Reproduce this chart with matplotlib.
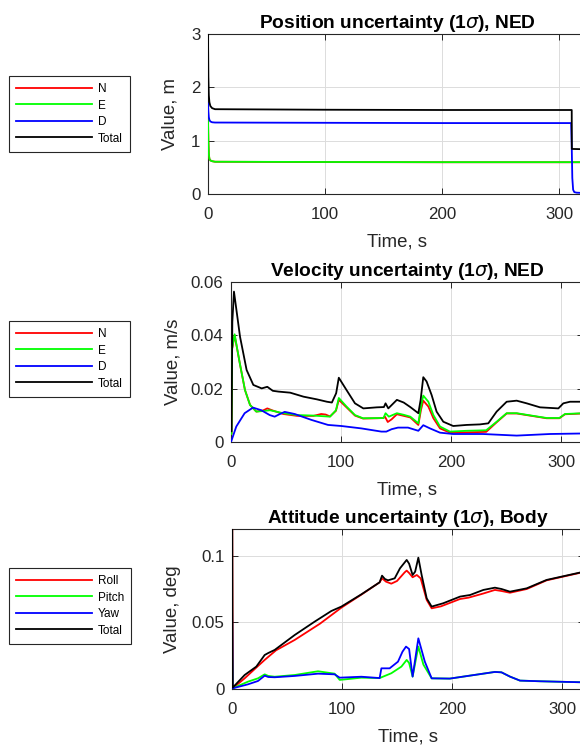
import matplotlib
matplotlib.use("Agg")
import matplotlib.pyplot as plt

# ---------------- data ----------------
# Position uncertainty (m)
pos_n_t = [0, 0.3, 0.7, 1.2, 2, 3.5, 6, 100, 200, 320]
pos_n_v = [1.40, 1.00, 0.75, 0.66, 0.63, 0.615, 0.605, 0.598, 0.595, 0.595]
pos_e_t = [0, 0.3, 0.7, 1.2, 2, 3.5, 6, 100, 200, 320]
pos_e_v = [1.40, 1.00, 0.75, 0.66, 0.63, 0.615, 0.605, 0.600, 0.597, 0.597]
pos_d_t = [0, 0.3, 0.7, 1.2, 2, 3.5, 6, 100, 200, 310.3, 310.8, 311.3, 312, 313, 315, 320]
pos_d_v = [1.70, 1.55, 1.44, 1.39, 1.36, 1.345, 1.34, 1.335, 1.33, 1.33, 0.90, 0.30, 0.08, 0.035, 0.025, 0.02]
pos_tot_t = [0, 0.3, 0.7, 1.2, 2, 3.5, 6, 100, 200, 310.8, 310.9, 320]
pos_tot_v = [3.00, 2.20, 1.85, 1.72, 1.65, 1.61, 1.59, 1.58, 1.575, 1.575, 0.845, 0.84]

# Velocity uncertainty (m/s)
vel_n_t = [0, 0.5, 1.0, 3.3, 8, 12.7, 17.3, 23, 29, 33, 38, 47.5, 60, 75, 82, 86, 90, 95.4, 98, 105,
           112.7, 120, 133, 138.6, 140, 142.5, 146, 150.8, 157, 163, 170.3, 172.7, 174.8, 179.4, 184, 190,
           199, 214, 232, 241.5, 250.6, 259.7, 274.8, 287, 298.5, 303.6, 320]
vel_n_v = [0.003, 0.003, 0.035, 0.040, 0.0295, 0.0195, 0.0139, 0.0114, 0.0118, 0.0126, 0.0118, 0.0105,
           0.0098, 0.0098, 0.0105, 0.0103, 0.0096, 0.0117, 0.0158, 0.0130, 0.0099, 0.0088, 0.0089, 0.0090,
           0.0095, 0.0075, 0.0085, 0.0104, 0.0098, 0.0092, 0.0064, 0.0120, 0.0155, 0.0133, 0.0089, 0.0051,
           0.0035, 0.0036, 0.0038, 0.0074, 0.0107, 0.0107, 0.0097, 0.0089, 0.0089, 0.0104, 0.0107]
vel_e_t = [0, 0.5, 1.0, 3.3, 8, 12.7, 17.3, 23, 29, 35.5, 47.5, 60, 75, 90, 95.4, 98, 105, 112.7, 120,
           138.6, 140.5, 143.5, 150.8, 157, 163, 170.3, 172.7, 174.8, 179.4, 184, 190, 199, 214, 232,
           241.5, 250.6, 259.7, 274.8, 287, 298.5, 303.6, 320]
vel_e_v = [0.003, 0.003, 0.035, 0.0404, 0.0295, 0.0195, 0.0139, 0.0114, 0.0116, 0.0119, 0.0108, 0.0101,
           0.0099, 0.0095, 0.0119, 0.0165, 0.0133, 0.0101, 0.0089, 0.0090, 0.0108, 0.0095, 0.0108, 0.0102,
           0.0095, 0.0070, 0.0133, 0.0174, 0.0151, 0.0101, 0.0058, 0.0039, 0.0042, 0.0044, 0.0076, 0.0108,
           0.0108, 0.0098, 0.0090, 0.0090, 0.0105, 0.0108]
vel_d_t = [0, 4.8, 12.4, 20, 27.6, 35.2, 39.7, 44, 48.8, 57.9, 73, 88.2, 100.3, 118.5, 136.7, 141.2,
           146, 151.8, 160.9, 170.3, 174.8, 180.9, 190, 202, 229, 259.7, 290, 320]
vel_d_v = [0.0, 0.0058, 0.0108, 0.0129, 0.0119, 0.0101, 0.0095, 0.0104, 0.0113, 0.0105, 0.0083, 0.0064,
           0.0060, 0.0051, 0.0039, 0.0039, 0.0048, 0.0054, 0.0054, 0.0042, 0.0063, 0.0051, 0.0035, 0.0030,
           0.0030, 0.0024, 0.0030, 0.0032]
vel_tot_t = [0, 0.5, 1.2, 2.7, 8.2, 14.2, 20.3, 27.9, 33, 38, 43.2, 53.8, 65.9, 78, 87.2, 91.7, 95.6, 98,
             105, 112.7, 120.3, 132.6, 139, 140.5, 143, 150.8, 157, 163, 170.3, 172.4, 174.8, 177.8,
             182.4, 186.9, 193, 202, 214.2, 226.3, 233.9, 241.5, 250.6, 259.7, 268.8, 280.9, 297.6,
             302.1, 308.2, 320]
vel_tot_v = [0.004, 0.004, 0.045, 0.0564, 0.0395, 0.0270, 0.0214, 0.0201, 0.0207, 0.0192, 0.0189, 0.0185,
             0.0170, 0.0160, 0.0151, 0.0148, 0.0183, 0.0241, 0.0195, 0.0145, 0.0126, 0.0130, 0.0131, 0.0145,
             0.0126, 0.0158, 0.0148, 0.0131, 0.0108, 0.0158, 0.0243, 0.0227, 0.0176, 0.0114, 0.0076, 0.0060,
             0.0064, 0.0066, 0.0070, 0.0114, 0.0151, 0.0155, 0.0145, 0.0130, 0.0126, 0.0145, 0.0151, 0.0151]

# Attitude uncertainty (deg)
att_roll_t = [0, 0.6, 11.5, 22, 29.7, 40, 57, 80, 99.4, 118, 134.2, 136.4, 140, 144.8, 150, 157, 158.8,
              161, 164.2, 168, 171.5, 177, 181.5, 190, 207.3, 215, 228, 239, 245, 252.7, 268, 286, 320]
att_roll_v = [0.20, 0.0005, 0.0080, 0.0160, 0.0218, 0.0290, 0.0368, 0.0490, 0.0610, 0.0710, 0.0800,
              0.0830, 0.0805, 0.0790, 0.0810, 0.0875, 0.0888, 0.0870, 0.0838, 0.0855, 0.0830, 0.0668,
              0.0605, 0.0620, 0.0675, 0.0685, 0.0715, 0.0743, 0.0735, 0.0722, 0.0750, 0.0815, 0.0878]
att_pitch_t = [0, 0.6, 14.5, 23.6, 29.7, 33, 38.8, 57, 78.2, 93.3, 97.9, 117.6, 134.2, 144.8, 154,
               158.8, 161, 164.2, 169.4, 174, 181.5, 198, 239, 245, 252.7, 261.8, 280, 320]
att_pitch_v = [0.03, 0.0005, 0.0055, 0.0080, 0.0110, 0.0098, 0.0092, 0.0105, 0.0133, 0.0115, 0.0068,
               0.0085, 0.0082, 0.0118, 0.0168, 0.0218, 0.0195, 0.0093, 0.0318, 0.0183, 0.0080, 0.0078,
               0.0128, 0.0125, 0.0093, 0.0063, 0.0058, 0.0050]
att_yaw_t = [0, 0.6, 14.5, 23.6, 29.7, 33, 38.8, 57, 78.2, 93.3, 97.9, 117.6, 134.2, 135.8, 143.3,
             150.9, 155, 158.2, 161, 164.2, 169.4, 175.3, 181.5, 198, 239, 245, 252.7, 261.8, 280, 320]
att_yaw_v = [0.07, 0.0005, 0.0035, 0.0060, 0.0100, 0.0090, 0.0088, 0.0098, 0.0115, 0.0110, 0.0085,
             0.0092, 0.0082, 0.0155, 0.0155, 0.0205, 0.0280, 0.0318, 0.0300, 0.0093, 0.0380, 0.0205,
             0.0080, 0.0078, 0.0128, 0.0125, 0.0093, 0.0063, 0.0058, 0.0050]
att_tot_t = [0, 0.6, 11.5, 22.1, 29.7, 33, 38.8, 57, 75.1, 90.3, 99.4, 117.6, 134.2, 136.4, 139, 141.8,
             147.9, 152.7, 158.8, 161, 164.2, 166.5, 169.4, 172.4, 177, 181.5, 192, 207.3, 216.4, 228.5,
             239, 245, 252.7, 267.9, 286, 320]
att_tot_v = [0.20, 0.001, 0.0105, 0.0168, 0.0255, 0.0270, 0.0293, 0.0405, 0.0505, 0.0585, 0.0618, 0.0710,
             0.0800, 0.0850, 0.0825, 0.0815, 0.0830, 0.0905, 0.0968, 0.0940, 0.0855, 0.0880, 0.0985, 0.0855,
             0.0680, 0.0618, 0.0643, 0.0693, 0.0705, 0.0743, 0.0760, 0.0750, 0.0730, 0.0755, 0.0818, 0.0880]

titles = ["Position uncertainty (1$\\sigma$), NED",
          "Velocity uncertainty (1$\\sigma$), NED",
          "Attitude uncertainty (1$\\sigma$), Body"]
ylabels = ["Value, m", "Value, m/s", "Value, deg"]
xlabel = "Time, s"
legend_ned = ["N", "E", "D", "Total"]
legend_att = ["Roll", "Pitch", "Yaw", "Total"]
xticks = [0, 100, 200, 300]
yticks_pos = [0, 1, 2, 3]
yticks_vel = [0, 0.02, 0.04, 0.06]
ytick_labels_vel = ["0", "0.02", "0.04", "0.06"]
yticks_att = [0, 0.05, 0.1]
ytick_labels_att = ["0", "0.05", "0.1"]

# ---------------- figure ----------------
plt.rcParams['font.family'] = ['Liberation Sans', 'DejaVu Sans']
plt.rcParams['mathtext.fontset'] = 'dejavusans'

W, H = 580, 745
fig = plt.figure(figsize=(W / 100, H / 100), dpi=100)

colors = ['#ff0000', '#00ff00', '#0000ff', '#000000']
dark = '#262626'


def px_axes(left, right, top, bottom):
    return [left / W, 1 - bottom / H, (right - left) / W, (bottom - top) / H]


def style(ax, xlim, ylim, yticks, yticklabels, title, ylabel, ylab_x):
    ax.set_xlim(*xlim)
    ax.set_ylim(*ylim)
    ax.set_xticks(xticks)
    ax.set_xticklabels([str(v) for v in xticks])
    ax.set_yticks(yticks)
    ax.set_yticklabels(yticklabels)
    ax.grid(True, color='#dcdcdc', linewidth=0.7)
    ax.set_axisbelow(True)
    ax.tick_params(direction='in', length=4, width=0.7, colors=dark, labelsize=12.2,
                   top=True, right=True)
    ax.tick_params(axis='x', pad=9.5)
    ax.tick_params(axis='y', pad=5.5)
    for s in ax.spines.values():
        s.set_color(dark)
        s.set_linewidth(0.8)
    ax.set_title(title, fontsize=13.8, fontweight='bold', pad=4, color='black')
    ax.set_xlabel(xlabel, fontsize=13.4, color=dark, labelpad=8)
    ax.set_ylabel(ylabel, fontsize=13.4, color=dark)
    ax.yaxis.set_label_coords(ylab_x, 0.5)


def legend(ax, handles, labels, left_px, top_px):
    lg = fig.legend(handles, labels, loc='upper left',
                    bbox_to_anchor=(left_px / W, 1 - top_px / H),
                    bbox_transform=fig.transFigure, borderaxespad=0,
                    fontsize=8.5, handlelength=6.4, handletextpad=0.55,
                    labelspacing=0.38, borderpad=0.6, fancybox=False,
                    framealpha=1, edgecolor=dark)
    lg.get_frame().set_linewidth(0.8)


lw = 1.3

# Position
ax1 = fig.add_axes(px_axes(208, 586, 34, 194))
series = [(pos_n_t, pos_n_v), (pos_e_t, pos_e_v), (pos_d_t, pos_d_v), (pos_tot_t, pos_tot_v)]
h1 = [ax1.plot(t, v, color=c, lw=lw, zorder=3)[0] for (t, v), c in zip(series, colors)]
style(ax1, (0, 323), (0, 3), yticks_pos, [str(v) for v in yticks_pos], titles[0], ylabels[0], -0.077)
legend(ax1, h1, legend_ned, 9, 76)

# Velocity
ax2 = fig.add_axes(px_axes(231, 583, 282, 442))
series = [(vel_n_t, vel_n_v), (vel_e_t, vel_e_v), (vel_d_t, vel_d_v), (vel_tot_t, vel_tot_v)]
h2 = [ax2.plot(t, v, color=c, lw=lw, zorder=3)[0] for (t, v), c in zip(series, colors)]
style(ax2, (0, 320), (0, 0.06), yticks_vel, ytick_labels_vel, titles[1], ylabels[1], -0.142)
legend(ax2, h2, legend_ned, 9, 321)

# Attitude
ax3 = fig.add_axes(px_axes(232, 584, 529, 689))
series = [(att_roll_t, att_roll_v), (att_pitch_t, att_pitch_v), (att_yaw_t, att_yaw_v),
          (att_tot_t, att_tot_v)]
h3 = [ax3.plot(t, v, color=c, lw=lw, zorder=3)[0] for (t, v), c in zip(series, colors)]
style(ax3, (0, 320), (0, 0.12), yticks_att, ytick_labels_att, titles[2], ylabels[2], -0.145)
legend(ax3, h3, legend_att, 9, 568)

fig.savefig("out.png", dpi=100, facecolor='white')
